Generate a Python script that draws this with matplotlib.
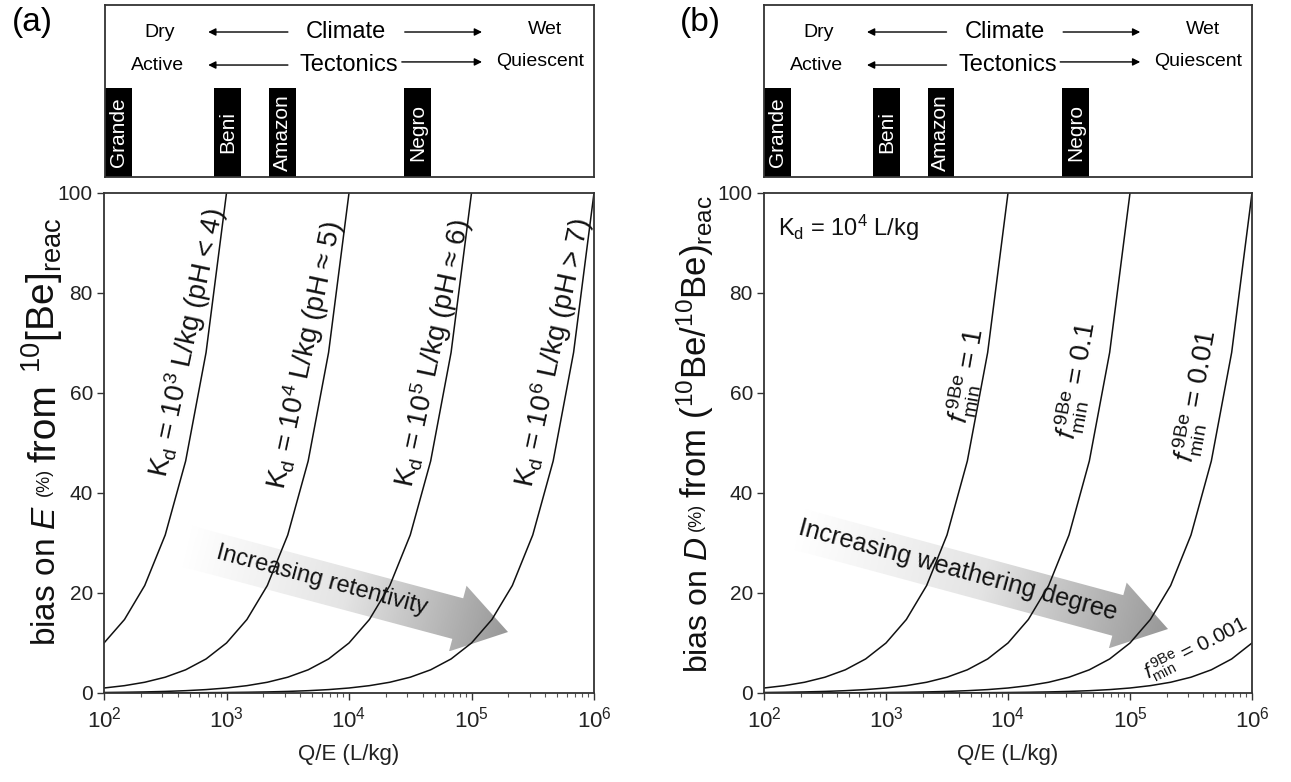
import numpy as np
import matplotlib
matplotlib.use('Agg')
import matplotlib.pyplot as plt
from matplotlib.patches import Polygon
from matplotlib.colors import LinearSegmentedColormap

plt.rcParams['font.family'] = ['Liberation Sans', 'DejaVu Sans']
plt.rcParams['mathtext.fontset'] = 'custom'
plt.rcParams['mathtext.rm'] = 'Liberation Sans'
plt.rcParams['mathtext.it'] = 'Liberation Sans:italic'
plt.rcParams['mathtext.bf'] = 'Liberation Sans:bold'

# Q/E sample grid (L/kg), six points per decade
qe = [100, 147, 215, 316, 464, 681,
      1000, 1468, 2154, 3162, 4642, 6813,
      10000, 14678, 21544, 31623, 46416, 68129,
      100000, 146780, 215440, 316230, 464160, 681290,
      1000000]

# panel (a): bias on E (%) for each Kd
bias_kd3 = [10, 14.7, 21.5, 31.6, 46.4, 68.1, 100]
bias_kd4 = [1, 1.47, 2.15, 3.16, 4.64, 6.81,
            10, 14.7, 21.5, 31.6, 46.4, 68.1, 100]
bias_kd5 = [0.1, 0.147, 0.215, 0.316, 0.464, 0.681,
            1, 1.47, 2.15, 3.16, 4.64, 6.81,
            10, 14.7, 21.5, 31.6, 46.4, 68.1, 100]
bias_kd6 = [0.01, 0.0147, 0.0215, 0.0316, 0.0464, 0.0681,
            0.1, 0.147, 0.215, 0.316, 0.464, 0.681,
            1, 1.47, 2.15, 3.16, 4.64, 6.81,
            10, 14.7, 21.5, 31.6, 46.4, 68.1, 100]
kd_labels = [r'K$_{\rm d}$ = 10$^{3}$ L/kg (pH < 4)',
             r'K$_{\rm d}$ = 10$^{4}$ L/kg (pH ≈ 5)',
             r'K$_{\rm d}$ = 10$^{5}$ L/kg (pH ≈ 6)',
             r'K$_{\rm d}$ = 10$^{6}$ L/kg (pH > 7)']
kd_label_pos = [(477, 70), (4400, 67.5), (48500, 68), (460000, 68)]

# panel (b): bias on D (%) for each f_min
bias_f1 = [1, 1.47, 2.15, 3.16, 4.64, 6.81,
           10, 14.7, 21.5, 31.6, 46.4, 68.1, 100]
bias_f01 = [0.1, 0.147, 0.215, 0.316, 0.464, 0.681,
            1, 1.47, 2.15, 3.16, 4.64, 6.81,
            10, 14.7, 21.5, 31.6, 46.4, 68.1, 100]
bias_f001 = [0.01, 0.0147, 0.0215, 0.0316, 0.0464, 0.0681,
             0.1, 0.147, 0.215, 0.316, 0.464, 0.681,
             1, 1.47, 2.15, 3.16, 4.64, 6.81,
             10, 14.7, 21.5, 31.6, 46.4, 68.1, 100]
bias_f0001 = [0.001, 0.00147, 0.00215, 0.00316, 0.00464, 0.00681,
              0.01, 0.0147, 0.0215, 0.0316, 0.0464, 0.0681,
              0.1, 0.147, 0.215, 0.316, 0.464, 0.681,
              1, 1.47, 2.15, 3.16, 4.64, 6.81, 10]
f_labels = [r'$f^{\,\rm 9Be}_{\rm min}$ = 1',
            r'$f^{\,\rm 9Be}_{\rm min}$ = 0.1',
            r'$f^{\,\rm 9Be}_{\rm min}$ = 0.01',
            r'$f^{\,\rm 9Be}_{\rm min}$ = 0.001']
f_label_pos = [(4700, 63.5), (37500, 62.5), (354000, 59.5), (345000, 8.8)]
f_label_rot = [80, 80, 80, 27]

# rivers in the header boxes
rivers = ['Grande', 'Beni', 'Amazon', 'Negro']
river_qe = [130, 1010, 2820, 36000]

W, H = 1291, 782
fig = plt.figure(figsize=(W / 100, H / 100), dpi=100)
renderer = fig.canvas.get_renderer()


def px_axes(left, top, right, bottom, **kw):
    return fig.add_axes([left / W, 1 - bottom / H, (right - left) / W, (bottom - top) / H], **kw)


# background axes in inch units, used for the shaded arrows
bg = fig.add_axes([0, 0, 1, 1], zorder=0)
bg.set_xlim(0, W / 100)
bg.set_ylim(0, H / 100)
bg.axis('off')

gray_cmap = LinearSegmentedColormap.from_list('fade', ['#ffffff', '#e4e4e4', '#989898'])


def shaded_arrow(tail, tip, text, shaft=42, head_w=68, head_l=52, fs=17):
    # tail / tip given in picture pixels (origin top-left)
    x0, y0 = tail[0] / 100, (H - tail[1]) / 100
    x1, y1 = tip[0] / 100, (H - tip[1]) / 100
    L = np.hypot(x1 - x0, y1 - y0)
    u = np.array([x1 - x0, y1 - y0]) / L
    n = np.array([-u[1], u[0]])
    p0 = np.array([x0, y0])
    neck = np.array([x1, y1]) - u * head_l / 100
    pts = [p0 + n * shaft / 200, neck + n * shaft / 200, neck + n * head_w / 200,
           np.array([x1, y1]), neck - n * head_w / 200, neck - n * shaft / 200,
           p0 - n * shaft / 200]
    poly = Polygon(pts, closed=True, facecolor='none', edgecolor='none')
    bg.add_patch(poly)
    xs = [p[0] for p in pts]
    ys = [p[1] for p in pts]
    ext = [min(xs), max(xs), min(ys), max(ys)]
    gx, gy = np.meshgrid(np.linspace(ext[0], ext[1], 300), np.linspace(ext[2], ext[3], 200))
    t = ((gx - x0) * u[0] + (gy - y0) * u[1]) / L
    im = bg.imshow(np.clip(t, 0, 1), extent=ext, origin='lower', cmap=gray_cmap,
                   vmin=0, vmax=1, aspect='auto', interpolation='bilinear')
    im.set_clip_path(poly)
    ang = np.degrees(np.arctan2(u[1], u[0]))
    mid = p0 + u * (L - head_l / 100) * 0.5
    bg.text(mid[0], mid[1] + 0.02, text, rotation=ang, rotation_mode='anchor',
            ha='center', va='center', fontsize=fs, color='#111', zorder=3)


def stacked_ylabel(x_px, y_px, pieces):
    # rotated label built from pieces of different size, bottom to top
    y = y_px
    for s, fs, dx, gap in pieces:
        t = fig.text((x_px + dx) / W, (H - y) / H, s, rotation=90, rotation_mode='anchor',
                     ha='left', va='baseline', fontsize=fs, color='#111')
        bb = t.get_window_extent(renderer)
        y -= bb.height + gap


def header(left, top, right, bottom):
    hx = px_axes(left, top, right, bottom, zorder=2)
    hx.set_xscale('log')
    hx.set_xlim(1e2, 1e6)
    hx.set_ylim(0, 1)
    hx.set_xticks([])
    hx.set_yticks([])
    hx.minorticks_off()
    for s in hx.spines.values():
        s.set_linewidth(1.3)
        s.set_color('#333')
    half = 10 ** 0.11
    lefts = [q / half for q in river_qe]
    widths = [q * half - q / half for q in river_qe]
    hx.bar(lefts, 0.52, width=widths, align='edge', color='black')
    for name, q in zip(rivers, river_qe):
        hx.text(q, 0.26, name, rotation=90, ha='center', va='center',
                color='white', fontsize=15)
    tr = hx.transAxes
    hx.text(0.112, 0.843, 'Dry', ha='center', va='center', fontsize=14, transform=tr)
    hx.text(0.493, 0.843, 'Climate', ha='center', va='center', fontsize=17, transform=tr)
    hx.text(0.90, 0.86, 'Wet', ha='center', va='center', fontsize=14, transform=tr)
    hx.text(0.108, 0.651, 'Active', ha='center', va='center', fontsize=14, transform=tr)
    hx.text(0.499, 0.651, 'Tectonics', ha='center', va='center', fontsize=17, transform=tr)
    hx.text(0.89, 0.669, 'Quiescent', ha='center', va='center', fontsize=14, transform=tr)
    ap = dict(arrowstyle='-|>', lw=1, color='black', mutation_scale=11, shrinkA=0, shrinkB=0)
    for (xa, xb, y) in [(0.374, 0.211, 0.843), (0.613, 0.771, 0.843),
                        (0.374, 0.211, 0.651), (0.607, 0.771, 0.669)]:
        hx.annotate('', xy=(xb, y), xytext=(xa, y), xycoords=tr, textcoords=tr, arrowprops=ap)
    return hx


def main_axes(left, right):
    ax = px_axes(left, 193, right, 693, zorder=1)
    ax.patch.set_alpha(0)
    ax.set_xscale('log')
    ax.set_xlim(1e2, 1e6)
    ax.set_ylim(0, 100)
    ax.set_yticks([0, 20, 40, 60, 80, 100])
    for s in ax.spines.values():
        s.set_linewidth(1.3)
        s.set_color('#333')
    ax.tick_params(which='major', direction='out', length=5, width=1, labelsize=15,
                   colors='#333', labelcolor='#222', pad=3)
    ax.tick_params(which='minor', direction='out', length=3, width=0.8, colors='#555')
    ax.tick_params(axis='x', which='major', labelsize=16, pad=5)
    ax.set_xlabel('Q/E (L/kg)', fontsize=16, labelpad=8, color='#222')
    return ax


# ---- panel (a)
header(105, 5, 594, 177)
axa = main_axes(104, 594)
for y in [bias_kd3, bias_kd4, bias_kd5, bias_kd6]:
    axa.plot(qe[:len(y)], y, color='#111', lw=1.1)
for lab, (x, y) in zip(kd_labels, kd_label_pos):
    axa.text(x, y, lab, rotation=78, ha='center', va='center', fontsize=20,
             rotation_mode='anchor', color='#111')
stacked_ylabel(55, 646, [(r'bias on $\mathit{E}$', 24, 0, 9),
                         ('(%)', 13, -6, 5),
                         ('from', 28, 0, 12),
                         (r'$^{10}$[Be]$_{\rm reac}$', 28, 0, 0)])
shaded_arrow((186, 546), (508, 632), 'Increasing retentivity', fs=17)
fig.text(12 / W, 1 - 22 / H, '(a)', fontsize=24, va='center', ha='left')

# ---- panel (b)
header(764, 5, 1252, 177)
axb = main_axes(764, 1252)
for y in [bias_f1, bias_f01, bias_f001, bias_f0001]:
    axb.plot(qe[:len(y)], y, color='#111', lw=1.1)
for lab, (x, y), r in zip(f_labels, f_label_pos, f_label_rot):
    axb.text(x, y, lab, rotation=r, ha='center', va='center',
             fontsize=20 if r > 45 else 15, rotation_mode='anchor', color='#111')
axb.text(0.029, 0.93, r'K$_{\rm d}$ = 10$^{4}$ L/kg', transform=axb.transAxes,
         fontsize=17, ha='left', va='center', color='#111')
stacked_ylabel(707, 673, [(r'bias on $\mathit{D}$', 23, 0, 6),
                          ('(%)', 13, -6, 5),
                          (r'from ($^{10}$Be/$^{10}$Be)$_{\rm reac}$', 25, 0, 0)])
shaded_arrow((798, 529), (1168, 629), 'Increasing weathering degree', fs=18)
fig.text(680 / W, 1 - 22 / H, '(b)', fontsize=24, va='center', ha='left')

fig.savefig('out.png', dpi=100)
